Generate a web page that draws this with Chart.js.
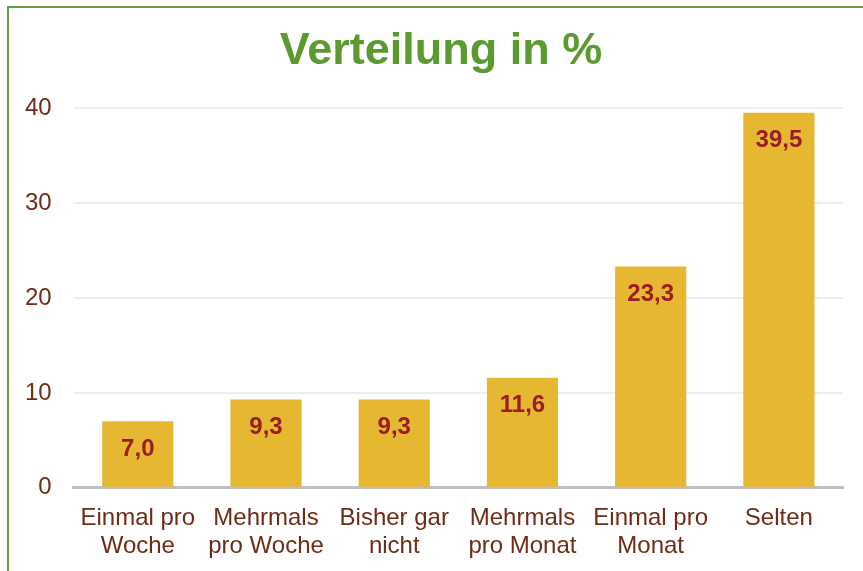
<!DOCTYPE html>
<html>
<head>
<meta charset="utf-8">
<script src="https://cdn.jsdelivr.net/npm/chart.js@4.4.1/dist/chart.umd.min.js"></script>
<style>
  html, body { margin: 0; padding: 0; background: #ffffff; }
  #wrap { position: relative; width: 863px; height: 571px; overflow: hidden; }
  #frame {
    position: absolute; left: 7px; top: 6px; width: 900px; height: 620px;
    border: 2px solid #5E9E3E; box-sizing: border-box; pointer-events: none;
  }
</style>
</head>
<body>
<div id="wrap">
  <canvas id="chart" width="863" height="571"></canvas>
  <div id="frame"></div>
</div>
<script>
// Daten
const categories = [
    ['Einmal pro', 'Woche'],
    ['Mehrmals', 'pro Woche'],
    ['Bisher gar', 'nicht'],
    ['Mehrmals', 'pro Monat'],
    ['Einmal pro', 'Monat'],
    ['Selten']
];
const shares = [7.0, 9.3, 9.3, 11.6, 23.3, 39.5];
const yTicks = [0, 10, 20, 30, 40];
const chartTitle = 'Verteilung in %';

const fontFamily = '"Liberation Sans", Arial, sans-serif';

// Titel etwas rechts der Mitte, wie im Original
const titleDraw = {
    id: 'titleDraw',
    afterDraw(chart) {
        const ctx = chart.ctx;
        ctx.save();
        ctx.font = 'bold 45px ' + fontFamily;
        ctx.fillStyle = '#5A9A2E';
        ctx.textAlign = 'center';
        ctx.textBaseline = 'middle';
        ctx.fillText(chartTitle, 441, 52);
        ctx.restore();
    }
};

// Werte in den Balken schreiben (deutsches Dezimalkomma)
const valueLabels = {
    id: 'valueLabels',
    afterDatasetsDraw(chart) {
        const ctx = chart.ctx;
        const meta = chart.getDatasetMeta(0);
        ctx.save();
        ctx.font = 'bold 24px ' + fontFamily;
        ctx.fillStyle = '#9C1D22';
        ctx.textAlign = 'center';
        ctx.textBaseline = 'middle';
        meta.data.forEach((bar, i) => {
            const txt = shares[i].toFixed(1).replace('.', ',');
            ctx.fillText(txt, bar.x, bar.y + 28);
        });
        ctx.restore();
    }
};

const ctx = document.getElementById('chart').getContext('2d');
new Chart(ctx, {
    type: 'bar',
    data: {
        labels: categories,
        datasets: [{
            data: shares,
            backgroundColor: '#E6B731',
            borderWidth: 0,
            barPercentage: 0.555,
            categoryPercentage: 1.0
        }]
    },
    options: {
        responsive: false,
        animation: false,
        layout: { padding: { left: 3, right: 20, top: 108, bottom: -5 } },
        plugins: {
            legend: { display: false },
            tooltip: { enabled: false },
            title: { display: false }
        },
        scales: {
            x: {
                grid: { display: false, drawTicks: false },
                border: { display: true, color: '#BFBFBF', width: 3 },
                ticks: {
                    color: '#6E2C14',
                    font: { family: fontFamily, size: 24, lineHeight: 1.17 },
                    padding: 16,
                    maxRotation: 0,
                    autoSkip: false
                }
            },
            y: {
                min: 0,
                max: 40,
                afterBuildTicks: axis => { axis.ticks = yTicks.map(v => ({ value: v })); },
                grid: { color: '#EEEEEE', lineWidth: 2, drawTicks: false },
                border: { display: false },
                ticks: {
                    color: '#6E2C14',
                    font: { family: fontFamily, size: 24 },
                    padding: 22
                }
            }
        }
    },
    plugins: [valueLabels, titleDraw]
});
</script>
</body>
</html>
